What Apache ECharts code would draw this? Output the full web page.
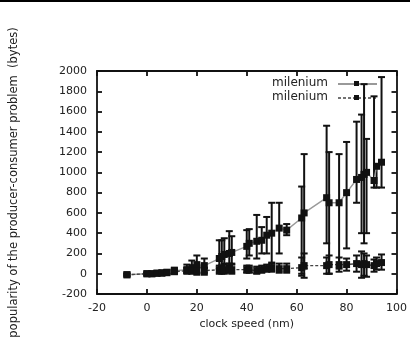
<!DOCTYPE html>
<html>
<head>
<meta charset="utf-8">
<script src="https://cdn.jsdelivr.net/npm/echarts@6/dist/echarts.min.js"></script>
<style>
  html, body { margin: 0; padding: 0; background: #fff; }
  #chart { width: 410px; height: 361px; }
</style>
</head>
<body>
<div id="chart"></div>
<script>
// clock speed (nm) per sample
const xs = [-8, 0, 2, 4, 6, 8, 11, 16, 18, 20, 23, 29, 30, 31, 33, 34, 40, 41, 44, 46, 48, 50, 53, 56, 62, 63, 72, 73, 77, 80, 84, 86, 87, 88, 91, 92, 94];

// first "milenium" (solid)
const ySolid = [-10, 0, 0, 5, 10, 15, 30, 40, 60, 90, 80, 150, 170, 190, 200, 210, 270, 300, 320, 330, 380, 400, 450, 430, 550, 600, 750, 700, 700, 800, 930, 950, 980, 1000, 920, 1060, 1100];
const loSolid = [-20, -10, -10, -5, 0, 0, 10, 10, 20, 10, 10, 50, 80, 100, 80, 100, 150, 180, 150, 200, 200, 100, 200, 380, 0, 50, 300, 0, 50, 250, 700, 400, 300, 400, 850, 850, 850];
const hiSolid = [0, 10, 10, 20, 25, 35, 60, 90, 130, 180, 150, 330, 330, 350, 420, 370, 430, 440, 580, 460, 560, 700, 700, 490, 860, 1180, 1460, 1200, 1180, 1300, 1500, 1570, 1870, 1330, 1750, 1060, 1940];

// second "milenium" (dashed)
const yDash = [-10, 0, 0, 5, 5, 10, 20, 30, 30, 30, 30, 40, 40, 40, 50, 40, 40, 40, 30, 40, 50, 60, 50, 50, 60, 80, 80, 90, 90, 90, 100, 90, 100, 90, 80, 100, 110];
const loDash = [-20, -10, -10, -5, -5, 0, 0, 0, 0, -10, -10, 0, 0, 0, 10, 0, 10, 10, 0, 10, 20, 20, 10, 10, -20, -40, 0, 0, 20, 30, 20, -40, -20, -30, 20, 40, 40];
const hiDash = [0, 10, 10, 15, 15, 20, 40, 60, 60, 70, 60, 80, 80, 90, 100, 90, 80, 80, 70, 80, 90, 110, 100, 100, 160, 200, 160, 180, 160, 150, 180, 220, 200, 180, 140, 160, 190];

const font = '"DejaVu Sans", Verdana, sans-serif';
const ink = '#111';
const txt = '#222';

function errorBars(lo, hi) {
  return {
    type: 'custom',
    xAxisIndex: 0,
    yAxisIndex: 0,
    data: xs.map((x, i) => [x, lo[i], hi[i]]),
    z: 3,
    renderItem: (params, api) => {
      const x = api.value(0);
      const a = api.coord([x, api.value(1)]);
      const b = api.coord([x, api.value(2)]);
      const cap = 3.5;
      const st = { stroke: ink, lineWidth: 2 };
      return {
        type: 'group',
        children: [
          { type: 'line', shape: { x1: a[0], y1: a[1], x2: b[0], y2: b[1] }, style: st },
          { type: 'line', shape: { x1: a[0] - cap, y1: a[1], x2: a[0] + cap, y2: a[1] }, style: st },
          { type: 'line', shape: { x1: b[0] - cap, y1: b[1], x2: b[0] + cap, y2: b[1] }, style: st }
        ]
      };
    }
  };
}

const axisLine = { show: true, onZero: false, lineStyle: { color: ink, width: 1.8 } };
const axisTick = { inside: true, length: 5, lineStyle: { color: ink, width: 1.8 } };

const chart = echarts.init(document.getElementById('chart'));

chart.setOption({
  backgroundColor: '#fff',
  animation: false,
  grid: { left: 93, right: 13, top: 71, bottom: 67 },
  xAxis: [
    {
      type: 'value', min: -20, max: 100, interval: 20,
      name: 'clock speed (nm)', nameLocation: 'middle', nameGap: 24,
      nameTextStyle: { fontFamily: font, fontSize: 11, color: txt },
      axisLine, axisTick,
      axisLabel: { fontFamily: font, fontSize: 11, color: txt, margin: 9 },
      splitLine: { show: false }
    },
    {
      type: 'value', min: -20, max: 100, interval: 20, position: 'top',
      axisLine, axisTick,
      axisLabel: { show: false },
      splitLine: { show: false }
    }
  ],
  yAxis: [
    {
      type: 'value', min: -200, max: 2000, interval: 200,
      name: 'popularity of the producer-consumer problem  (bytes)',
      nameLocation: 'middle', nameGap: 77, nameRotate: 90,
      nameTextStyle: { fontFamily: font, fontSize: 11.5, color: txt },
      axisLine, axisTick,
      axisLabel: { fontFamily: font, fontSize: 11, color: txt, margin: 10, formatter: v => String(v) },
      splitLine: { show: false }
    },
    {
      type: 'value', min: -200, max: 2000, interval: 200, position: 'right',
      axisLine, axisTick,
      axisLabel: { show: false },
      splitLine: { show: false }
    }
  ],
  series: [
    {
      name: 'milenium', type: 'line', xAxisIndex: 0, yAxisIndex: 0,
      data: xs.map((x, i) => [x, ySolid[i]]),
      symbol: 'rect', symbolSize: 7, z: 4,
      itemStyle: { color: ink },
      lineStyle: { color: '#999', width: 1.4, type: 'solid' }
    },
    errorBars(loSolid, hiSolid),
    {
      name: 'milenium ', type: 'line', xAxisIndex: 0, yAxisIndex: 0,
      data: xs.map((x, i) => [x, yDash[i]]),
      symbol: 'rect', symbolSize: 7, z: 4,
      itemStyle: { color: ink },
      lineStyle: { color: '#444', width: 1.4, type: [3, 2] }
    },
    errorBars(loDash, hiDash)
  ],
  graphic: [
    { type: 'rect', shape: { x: 0, y: 0, width: 410, height: 2 }, style: { fill: '#000' } },
    // legend
    { type: 'text', right: 82, top: 77, style: { text: 'milenium', font: '12px ' + font, fill: txt } },
    { type: 'text', right: 82, top: 91, style: { text: 'milenium', font: '12px ' + font, fill: txt } },
    { type: 'line', shape: { x1: 338, y1: 84, x2: 377, y2: 84 }, style: { stroke: '#777', lineWidth: 1.4 } },
    { type: 'line', shape: { x1: 338, y1: 98, x2: 377, y2: 98 }, style: { stroke: '#444', lineWidth: 1.4, lineDash: [3, 2] } },
    { type: 'rect', shape: { x: 354, y: 81, width: 5, height: 5 }, style: { fill: ink } },
    { type: 'rect', shape: { x: 354, y: 95, width: 5, height: 5 }, style: { fill: ink } }
  ]
});
</script>
</body>
</html>
